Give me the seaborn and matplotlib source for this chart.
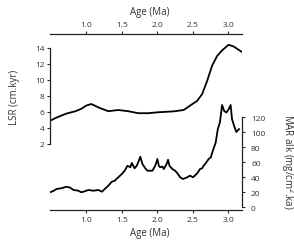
import matplotlib
matplotlib.use("Agg")
import matplotlib.pyplot as plt
import seaborn as sns
import pandas as pd

lsr_age = [0.49, 0.58, 0.72, 0.85, 0.93, 1.00, 1.07, 1.19, 1.31, 1.45, 1.59, 1.73, 1.87,
           2.00, 2.23, 2.37, 2.46, 2.56, 2.63, 2.70, 2.77, 2.84, 2.91, 3.00, 3.07, 3.19]
lsr = [4.9, 5.3, 5.8, 6.1, 6.4, 6.8, 7.0, 6.5, 6.1, 6.25, 6.1, 5.85, 5.85,
       5.96, 6.08, 6.25, 6.8, 7.4, 8.25, 9.9, 11.8, 13.0, 13.7, 14.4, 14.2, 13.5]

mar_age = [0.49, 0.55, 0.58, 0.65, 0.72, 0.77, 0.82, 0.89, 0.93, 0.98, 1.03, 1.10, 1.17,
           1.22, 1.26, 1.31, 1.36, 1.40, 1.45, 1.50, 1.54, 1.58, 1.62, 1.64, 1.68, 1.71,
           1.73, 1.76, 1.79, 1.83, 1.86, 1.93, 1.97, 2.00, 2.02, 2.04, 2.07, 2.09, 2.13,
           2.15, 2.17, 2.21, 2.25, 2.29, 2.32, 2.36, 2.42, 2.46, 2.50, 2.54, 2.57, 2.60,
           2.63, 2.65, 2.69, 2.72, 2.75, 2.78, 2.82, 2.85, 2.88, 2.91, 2.94, 2.97, 3.00,
           3.03, 3.05, 3.08, 3.11, 3.15]
mar = [19.6, 22, 24, 25, 27, 26, 22.7, 21.7, 19.6, 21, 22.7, 21.7, 22.7,
       20.4, 24, 28.4, 33.8, 35, 39.6, 44, 48.4, 55, 53, 58.7, 51.6, 55,
       59.6, 67, 57.3, 51.6, 48.4, 48.4, 55, 64, 55, 53, 54, 50.7, 57.3,
       63, 55, 50.7, 48.4, 44, 39.6, 37.3, 39.6, 41.8, 39.6, 43, 46.2, 50.7,
       51.6, 55, 59.6, 64, 66, 75, 86, 104, 113, 136, 128, 126, 130,
       136, 117, 108, 100, 104]

age_ticks = [1.0, 1.5, 2.0, 2.5, 3.0]
age_ticklabels = ["1.0", "1.5", "2.0", "2.5", "3.0"]
lsr_ticks = [2, 4, 6, 8, 10, 12, 14]
mar_ticks = [0, 20, 40, 60, 80, 100, 120]

sns.set_style("ticks")
plt.rcParams["font.family"] = ["Open Sans", "DejaVu Sans"]
txt = "#333333"

fig = plt.figure(figsize=(2.94, 2.51), dpi=100)
ax = fig.add_axes([50 / 294, 1 - 211 / 251, 192 / 294, 176 / 251])
ax2 = ax.twinx()

df_lsr = pd.DataFrame({"age": lsr_age, "lsr": lsr})
df_mar = pd.DataFrame({"age": mar_age, "mar": mar})
sns.lineplot(data=df_lsr, x="age", y="lsr", ax=ax, color="black", lw=1.3,
             estimator=None, sort=False)
sns.lineplot(data=df_mar, x="age", y="mar", ax=ax2, color="black", lw=1.3,
             estimator=None, sort=False)

ax.set_xlim(0.49, 3.19)
ax.set_ylim(-6.25, 15.75)
ax2.set_ylim(-4, 230.7)

for a in (ax, ax2):
    for s in a.spines.values():
        s.set_linewidth(0.9)
        s.set_color("#222222")

ax.spines["right"].set_visible(False)
ax2.spines["left"].set_visible(False)
ax2.spines["top"].set_visible(False)
ax2.spines["bottom"].set_visible(False)
ax.spines["top"].set_visible(True)
ax.spines["left"].set_bounds(2, 14)
ax2.spines["right"].set_bounds(0, 120)

ax.set_xticks(age_ticks)
ax.set_xticklabels(age_ticklabels)
ax.set_yticks(lsr_ticks)
ax2.set_yticks(mar_ticks)

ax.tick_params(axis="x", which="both", top=True, labeltop=True, bottom=True, labelbottom=True,
               direction="out", length=2.5, width=0.8, pad=1.5, labelsize=6, labelcolor=txt)
ax.tick_params(axis="y", direction="out", length=2.5, width=0.8, pad=1.5,
               labelsize=6, labelcolor=txt)
ax2.tick_params(axis="y", direction="out", length=2.5, width=0.8, pad=4,
                labelsize=6, labelcolor=txt)

ax.set_xlabel("")
ax.set_ylabel("LSR (cm.kyr)", fontsize=7, color=txt)
ax.yaxis.set_label_coords(-0.156, 0.648)
ax2.set_ylabel("MAR alk (mg/cm$^2$.ka)", fontsize=7, color=txt, rotation=270, va="center")
ax2.yaxis.set_label_coords(1.234, 0.278)

fig.text(150 / 294, 1 - 12 / 251, "Age (Ma)", ha="center", va="center", fontsize=7, color=txt)
fig.text(150 / 294, 1 - 234 / 251, "Age (Ma)", ha="center", va="center", fontsize=7, color=txt)

fig.savefig("out.png", dpi=100)
